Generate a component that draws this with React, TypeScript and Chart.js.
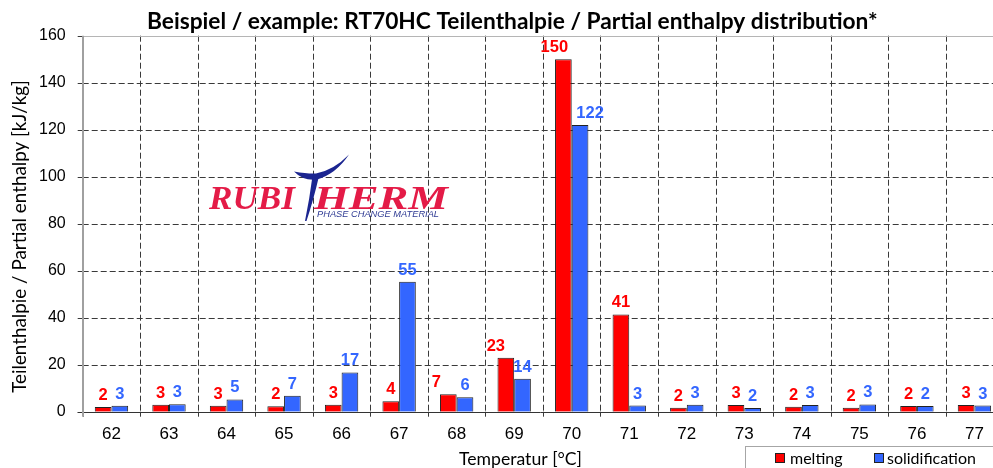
import React, { useEffect, useRef } from 'react';
import { Chart, registerables } from 'chart.js';

Chart.register(...registerables);

// ---- data ----
const categories = ['62', '63', '64', '65', '66', '67', '68', '69', '70', '71', '72', '73', '74', '75', '76', '77'];
const melting = [2.0, 3.0, 2.55, 2.3, 3.0, 4.4, 7.4, 23.0, 150, 41.4, 1.7, 2.9, 2.1, 1.7, 2.4, 2.9];
const solidification = [2.55, 3.2, 5.2, 6.8, 16.7, 55.3, 6.1, 14.0, 122, 2.6, 3.0, 1.6, 2.8, 3.1, 2.4, 2.6];
const seriesNames = ['melting', 'solidification'];
const yMin = 0;
const yMax = 160;
const yStep = 20;

const titleText = 'Beispiel / example: RT70HC Teilenthalpie / Partial enthalpy distribution*';
const yTitleText = 'Teilenthalpie / Partial enthalpy [kJ/kg]';
const xTitleText = 'Temperatur [°C]';

// label nudges (px) for the value labels, as placed in the original
const meltingLabelShift = [0, 0, 0, 0, 0, 0, -12, -10, -9, 0, 0, 0, 0, 0, 0, 0];
const solidLabelShift = [0, 0, 0, 0, 0, 0, 0, 0, 10, 0, 0, 0, 0, 0, 0, 0];

const RED = '#FF0000';
const BLUE = '#3366FF';
const ARIAL = '"Liberation Sans", Arial, sans-serif';
const CALIBRI = 'Lato, "Open Sans", sans-serif';

function fitSize(ctx: CanvasRenderingContext2D, text: string, weight: string, family: string, width: number) {
  ctx.font = `${weight} 100px ${family}`;
  const w = ctx.measureText(text).width;
  return (100 * width) / w;
}

function stretchText(ctx: CanvasRenderingContext2D, text: string, x: number, y: number, width: number) {
  const m = ctx.measureText(text).width;
  ctx.save();
  ctx.translate(x, y);
  ctx.scale(width / m, 1);
  ctx.textAlign = 'left';
  ctx.fillText(text, 0, 0);
  ctx.restore();
}

function hline(ctx: CanvasRenderingContext2D, x1: number, x2: number, y: number) {
  ctx.beginPath();
  ctx.moveTo(x1, y);
  ctx.lineTo(x2, y);
  ctx.stroke();
}
function vline(ctx: CanvasRenderingContext2D, x: number, y1: number, y2: number) {
  ctx.beginPath();
  ctx.moveTo(x, y1);
  ctx.lineTo(x, y2);
  ctx.stroke();
}

const gridPlugin = {
  id: 'customGrid',
  beforeDatasetsDraw(chart: any) {
    const { ctx, chartArea: a, scales } = chart;
    const x = scales.x;
    const y = scales.y;
    ctx.save();
    ctx.lineWidth = 1;
    ctx.strokeStyle = '#3a3a3a';
    ctx.setLineDash([6, 3]);
    for (let v = yMin + yStep; v < yMax; v += yStep) {
      const py = Math.round(y.getPixelForValue(v)) + 0.5;
      hline(ctx, a.left, a.right, py);
    }
    const n = categories.length;
    const bounds: number[] = [];
    for (let i = 0; i <= n; i++) {
      let b;
      if (i === 0) b = x.getPixelForValue(0) - (x.getPixelForValue(1) - x.getPixelForValue(0)) / 2;
      else if (i === n) b = x.getPixelForValue(n - 1) + (x.getPixelForValue(n - 1) - x.getPixelForValue(n - 2)) / 2;
      else b = (x.getPixelForValue(i - 1) + x.getPixelForValue(i)) / 2;
      bounds.push(Math.round(b) + 0.5);
    }
    for (let i = 1; i < n; i++) vline(ctx, bounds[i], a.top, a.bottom);
    ctx.setLineDash([]);
    for (let i = 0; i <= n; i++) vline(ctx, bounds[i], a.bottom, a.bottom + 5);
    for (let v = yMin; v <= yMax; v += yStep) {
      const py = Math.round(y.getPixelForValue(v)) + 0.5;
      hline(ctx, a.left - 5, a.left, py);
    }
    ctx.strokeStyle = '#b5b5b5';
    hline(ctx, a.left, a.right, Math.round(y.getPixelForValue(yMax)) + 0.5);
    ctx.strokeStyle = '#333333';
    hline(ctx, a.left - 5, a.right, Math.round(y.getPixelForValue(0)) + 0.5);
    ctx.strokeStyle = '#a0a0a0';
    ctx.lineWidth = 2;
    vline(ctx, Math.round(a.left), a.top, a.bottom + 5);
    ctx.restore();
  },
};

const labelPlugin = {
  id: 'valueLabels',
  afterDatasetsDraw(chart: any) {
    const { ctx } = chart;
    const shifts = [meltingLabelShift, solidLabelShift];
    const colors = [RED, BLUE];
    ctx.save();
    ctx.font = `bold 16.5px ${ARIAL}`;
    ctx.textAlign = 'center';
    ctx.textBaseline = 'alphabetic';
    chart.data.datasets.forEach((ds: any, di: number) => {
      const meta = chart.getDatasetMeta(di);
      ctx.fillStyle = colors[di];
      meta.data.forEach((el: any, i: number) => {
        const v = ds.data[i] as number;
        ctx.fillText(String(Math.round(v)), el.x + shifts[di][i], el.y - 7);
      });
    });
    ctx.restore();
  },
};

function drawLogo(ctx: CanvasRenderingContext2D) {
  ctx.save();
  ctx.fillStyle = '#E41B47';
  ctx.font = `italic bold 33px "Liberation Serif", "DejaVu Serif", serif`;
  ctx.textBaseline = 'alphabetic';
  stretchText(ctx, 'RUBI', 209, 208.5, 86);
  stretchText(ctx, 'HERM', 314, 208.5, 134);
  ctx.fillStyle = '#1B2590';
  ctx.beginPath();
  ctx.moveTo(294, 171.5);
  ctx.quadraticCurveTo(308, 174, 316, 173.5);
  ctx.quadraticCurveTo(334, 170, 349, 154.5);
  ctx.quadraticCurveTo(336, 174, 317, 179.5);
  ctx.quadraticCurveTo(303, 181, 294, 171.5);
  ctx.fill();
  ctx.beginPath();
  ctx.moveTo(312.5, 176);
  ctx.lineTo(319, 176);
  ctx.quadraticCurveTo(313.5, 200, 306.5, 221);
  ctx.lineTo(305, 221);
  ctx.quadraticCurveTo(309.5, 199, 312.5, 176);
  ctx.fill();
  ctx.fillStyle = '#2E3A93';
  ctx.font = `italic 8.5px ${ARIAL}`;
  stretchText(ctx, 'PHASE CHANGE MATERIAL', 317, 217, 122);
  ctx.restore();
}

const decorPlugin = {
  id: 'decor',
  afterDraw(chart: any) {
    const { ctx } = chart;
    ctx.save();
    const ts = fitSize(ctx, titleText, 'bold', CALIBRI, 731);
    ctx.font = `bold ${ts}px ${CALIBRI}`;
    ctx.fillStyle = '#000';
    ctx.textAlign = 'left';
    ctx.textBaseline = 'alphabetic';
    ctx.fillText(titleText, 147, 28.5);
    const ys = fitSize(ctx, yTitleText, 'normal', CALIBRI, 313);
    ctx.font = `normal ${ys}px ${CALIBRI}`;
    ctx.save();
    ctx.translate(20, 236.5);
    ctx.rotate(-Math.PI / 2);
    ctx.textAlign = 'center';
    ctx.textBaseline = 'middle';
    ctx.fillText(yTitleText, 0, 0);
    ctx.restore();
    const xs = fitSize(ctx, xTitleText, 'normal', CALIBRI, 123);
    ctx.font = `normal ${xs}px ${CALIBRI}`;
    ctx.textAlign = 'left';
    ctx.fillText(xTitleText, 459, 464.5);
    drawLogo(ctx);
    // legend
    ctx.strokeStyle = '#a6a6a6';
    ctx.lineWidth = 1;
    ctx.strokeRect(745.5, 446.5, 400, 100);
    const legendItems = [
      { color: RED, box: 775, text: 790 },
      { color: BLUE, box: 874, text: 887 },
    ];
    ctx.font = `normal 16px ${CALIBRI}`;
    legendItems.forEach((it, i) => {
      ctx.fillStyle = it.color;
      ctx.fillRect(it.box, 453, 10, 10);
      ctx.strokeStyle = '#222';
      ctx.strokeRect(it.box + 0.5, 453.5, 9, 9);
      ctx.fillStyle = '#000';
      ctx.textAlign = 'left';
      ctx.fillText(seriesNames[i], it.text, 464);
    });
    ctx.restore();
  },
};

export default function App() {
  const ref = useRef<HTMLCanvasElement>(null);
  useEffect(() => {
    document.body.style.margin = '0';
    const canvas = ref.current!;
    const chart = new Chart(canvas, {
      type: 'bar',
      data: {
        labels: categories,
        datasets: [
          {
            label: seriesNames[0],
            data: melting,
            backgroundColor: RED,
            borderColor: '#222',
            borderWidth: 1,
            barPercentage: 1,
            categoryPercentage: 0.58,
          },
          {
            label: seriesNames[1],
            data: solidification,
            backgroundColor: BLUE,
            borderColor: '#222',
            borderWidth: 1,
            barPercentage: 1,
            categoryPercentage: 0.58,
          },
        ],
      },
      options: {
        animation: false,
        responsive: false,
        devicePixelRatio: 1,
        layout: { padding: { top: 35.7, right: 6.8, left: 0, bottom: 0 } },
        plugins: {
          legend: { display: false },
          title: { display: false },
          tooltip: { enabled: false },
        },
        scales: {
          x: {
            type: 'category',
            offset: true,
            grid: { display: false, drawTicks: false },
            border: { display: false },
            ticks: {
              color: '#000',
              font: { family: ARIAL, size: 17 },
              padding: 12,
              autoSkip: false,
              maxRotation: 0,
            },
            afterFit: (scale: any) => {
              scale.height = 490 - 411.7;
            },
          },
          y: {
            min: yMin,
            max: yMax,
            grid: { display: false, drawTicks: false },
            border: { display: false },
            ticks: {
              stepSize: yStep,
              color: '#000',
              font: { family: ARIAL, size: 16 },
              padding: 17,
            },
            afterFit: (scale: any) => {
              scale.width = 82.7;
            },
          },
        },
      },
      plugins: [gridPlugin, labelPlugin, decorPlugin],
    } as any);
    return () => chart.destroy();
  }, []);
  return (
    <div
      style={{
        position: 'fixed',
        left: 0,
        top: 0,
        width: 993,
        height: 468,
        overflow: 'hidden',
        background: '#fff',
      }}
    >
      <canvas ref={ref} width={1010} height={490} style={{ display: 'block', width: 1010, height: 490 }} />
    </div>
  );
}
